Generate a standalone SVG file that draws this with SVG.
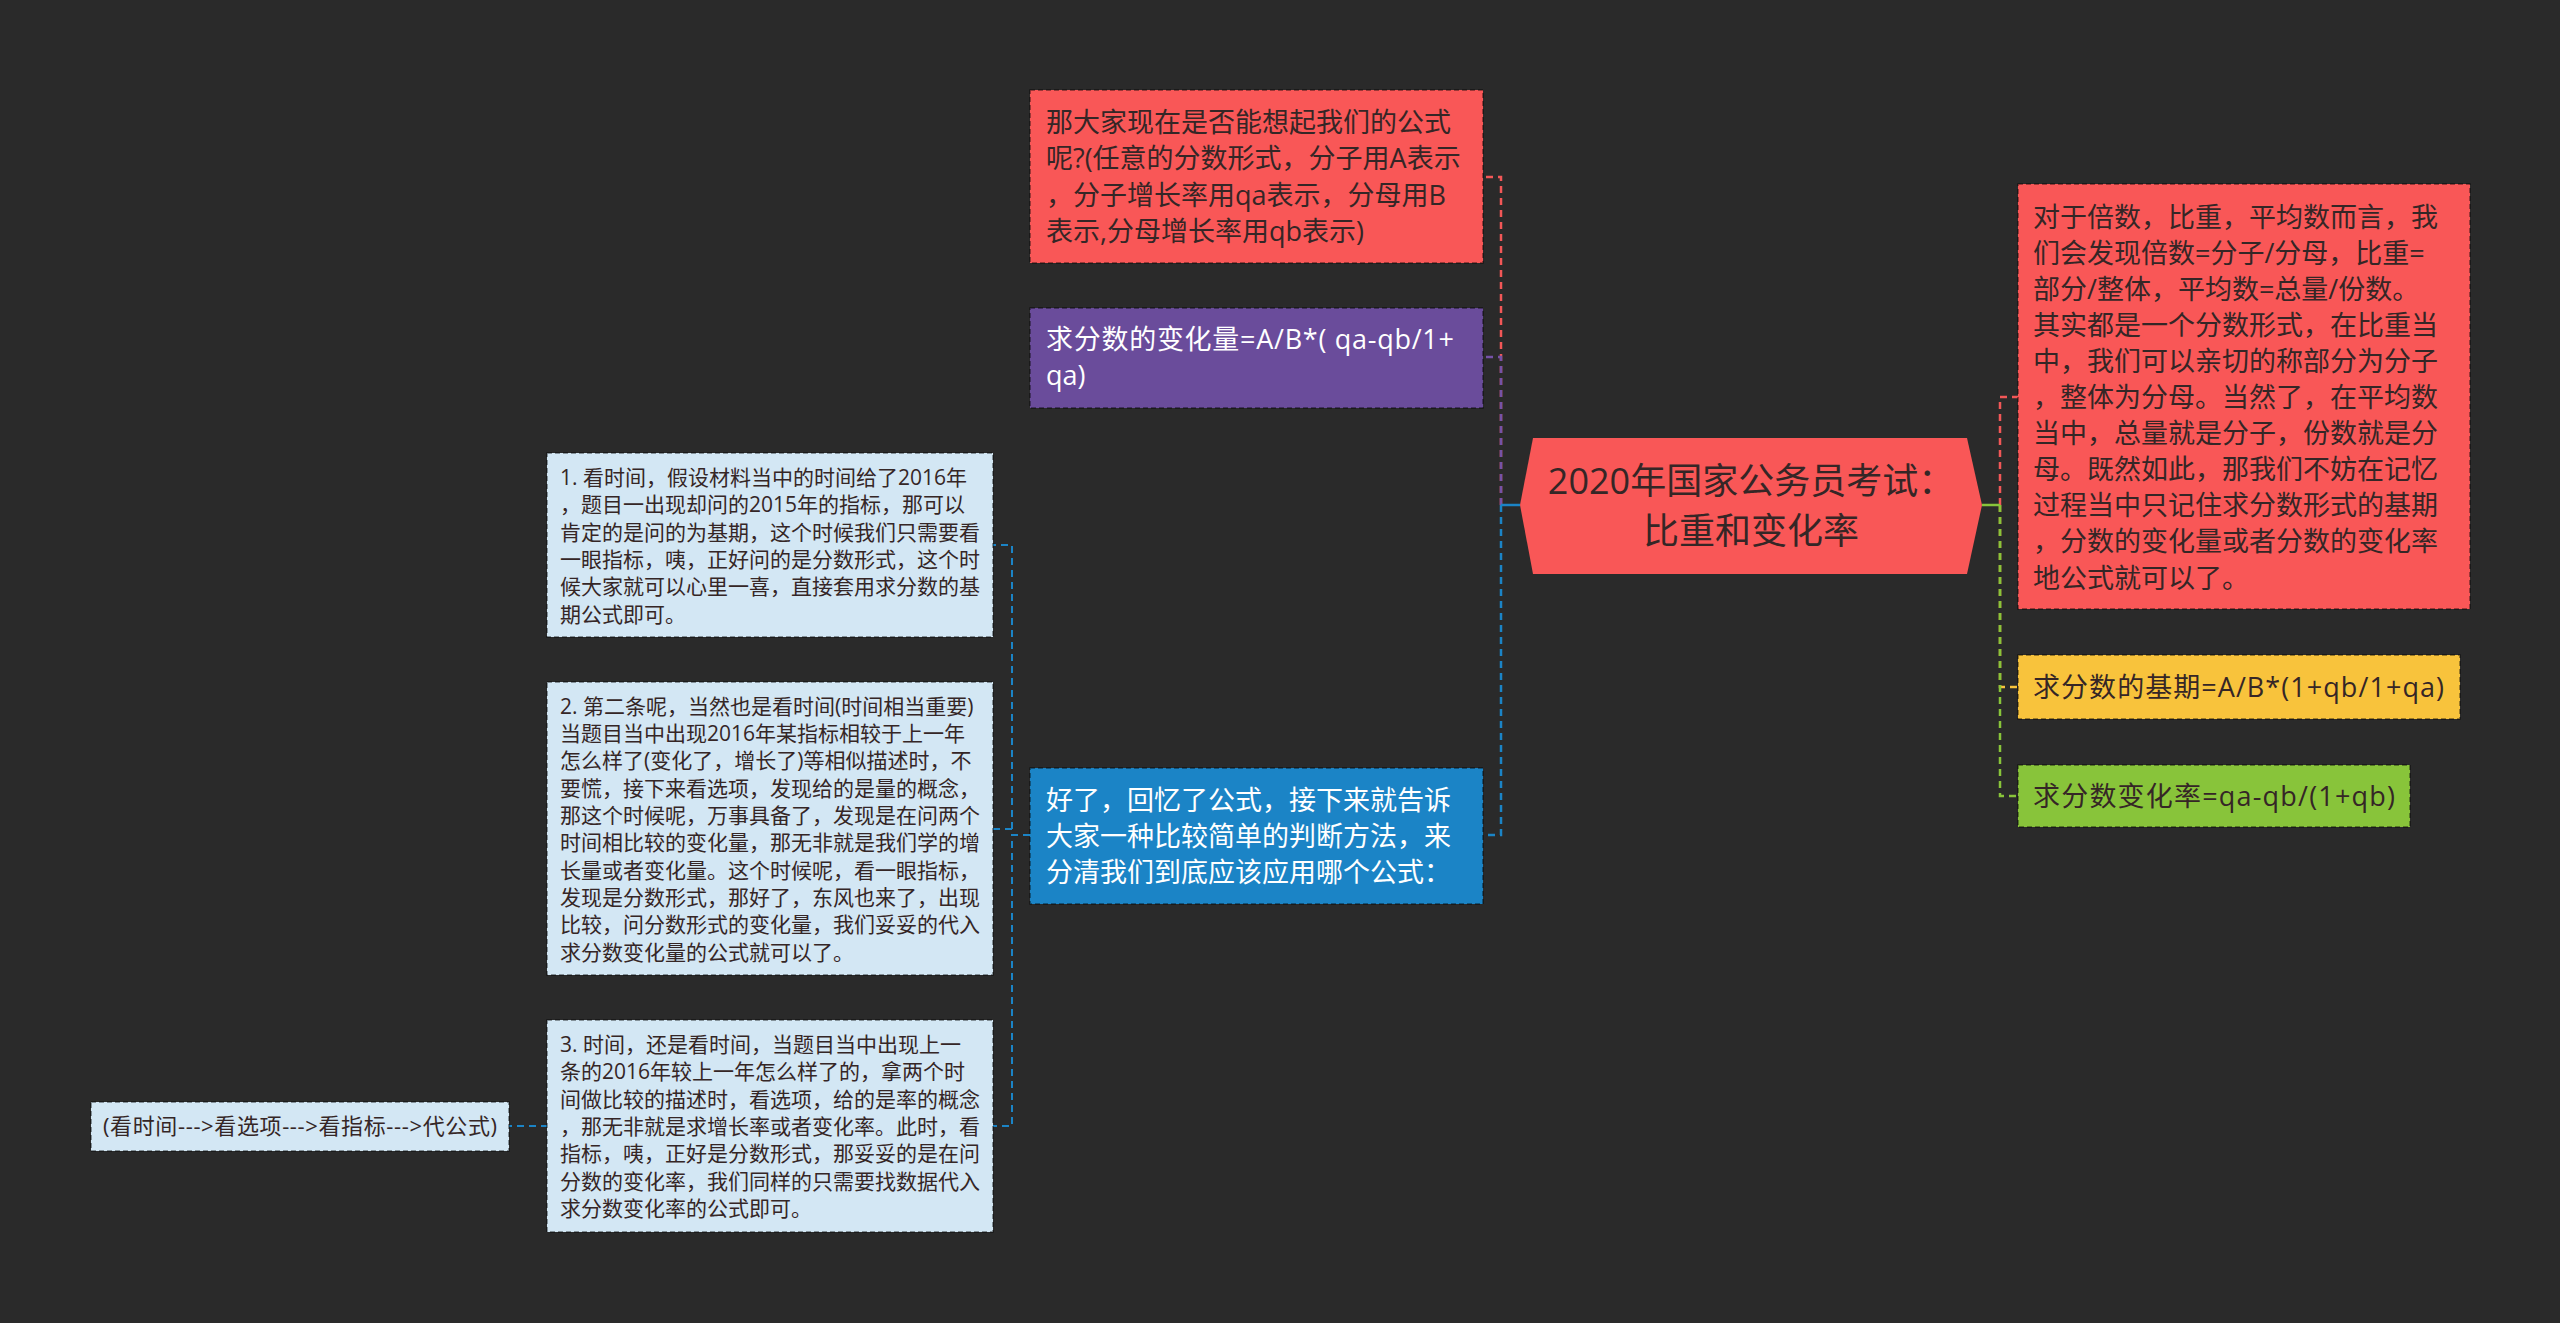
<svg xmlns="http://www.w3.org/2000/svg" width="2560" height="1323" viewBox="0 0 2560 1323">
<style>
.t{font-family:"Open Sans","Noto Sans CJK SC","Noto Sans",sans-serif}
.box{stroke:rgba(0,0,0,0.5);stroke-width:1.5;stroke-dasharray:5 3}
.red{fill:#f95757}
.pur{fill:#6a4c9b}
.blu{fill:#1b84c6}
.lb{fill:#d3e7f4}
.yel{fill:#f8c33c}
.grn{fill:#88c43a}
.dk{fill:#352626}
.wh{fill:#ffffff}
.f27{font-size:27px}
.f21{font-size:21px}
.c1{fill:none;stroke-width:2.5;stroke-dasharray:7 5}
.c2{fill:none;stroke-width:2;stroke-dasharray:7 5;stroke:#1b84c6}
</style>
<rect x="0" y="0" width="2560" height="1323" fill="#2a2a2a"/>

<g id="connectors">
  <path class="c1" stroke="#f25757" d="M1501 505 V177 H1483"/>
  <path class="c1" stroke="#7552a6" d="M1501 505 V357 H1483"/>
  <path class="c1" stroke="#1b84c6" d="M1501 505 V835 H1483"/>
  <path d="M1520 505 H1501" stroke="#1b84c6" stroke-width="2.5" fill="none"/>
  <path class="c1" stroke="#f25757" d="M2000 505 V397 H2018"/>
  <path class="c1" stroke="#f8c33c" d="M2000 505 V687 H2018"/>
  <path class="c1" stroke="#88c43a" d="M2000 505 V796 H2018"/>
  <path d="M1982 505 H2000" stroke="#88c43a" stroke-width="2.5" fill="none"/>
  <path class="c2" d="M1030 835 H1012 V545 H993"/>
  <path class="c2" d="M1030 835 H1012 V829 H993"/>
  <path class="c2" d="M1030 835 H1012 V1126 H993"/>
  <path class="c2" d="M548 1126 H509"/>
</g>

<g id="root">
  <polygon points="1520,505 1533,438 1967,438 1982,505 1967,574 1533,574" fill="#f95757"/>
  <text class="t dk" font-size="36" text-anchor="middle" x="1751" y="494">2020年国家公务员考试：</text>
  <text class="t dk" font-size="36" text-anchor="middle" x="1751" y="544">比重和变化率</text>
</g>

<g id="n-formula-recall">
  <rect class="box red" x="1030" y="90" width="453" height="173"/>
  <text class="t f27 dk" x="1046"><tspan x="1046" y="132">那大家现在是否能想起我们的公式</tspan><tspan x="1046" y="168">呢?(任意的分数形式，分子用A表示</tspan><tspan x="1046" y="205">，分子增长率用qa表示，分母用B</tspan><tspan x="1046" y="241">表示,分母增长率用qb表示)</tspan></text>
</g>

<g id="n-change-amount">
  <rect class="box pur" x="1030" y="308" width="453" height="100"/>
  <text class="t f27 wh" x="1046" y="349" textLength="408" lengthAdjust="spacing">求分数的变化量=A/B*( qa-qb/1+</text>
  <text class="t f27 wh" x="1046" y="385">qa)</text>
</g>

<g id="n-method">
  <rect class="box blu" x="1030" y="768" width="453" height="136"/>
  <text class="t f27 wh"><tspan x="1046" y="810">好了，回忆了公式，接下来就告诉</tspan><tspan x="1046" y="846">大家一种比较简单的判断方法，来</tspan><tspan x="1046" y="882">分清我们到底应该应用哪个公式：</tspan></text>
</g>

<g id="n-step1">
  <rect class="box lb" x="547" y="453" width="446" height="184"/>
  <text class="t f21 dk"><tspan x="560" y="485">1. 看时间，假设材料当中的时间给了2016年</tspan><tspan x="560" y="512">，题目一出现却问的2015年的指标，那可以</tspan><tspan x="560" y="540">肯定的是问的为基期，这个时候我们只需要看</tspan><tspan x="560" y="567">一眼指标，咦，正好问的是分数形式，这个时</tspan><tspan x="560" y="594">候大家就可以心里一喜，直接套用求分数的基</tspan><tspan x="560" y="622">期公式即可。</tspan></text>
</g>

<g id="n-step2">
  <rect class="box lb" x="547" y="682" width="446" height="293"/>
  <text class="t f21 dk"><tspan x="560" y="714">2. 第二条呢，当然也是看时间(时间相当重要)</tspan><tspan x="560" y="741">当题目当中出现2016年某指标相较于上一年</tspan><tspan x="560" y="768">怎么样了(变化了，增长了)等相似描述时，不</tspan><tspan x="560" y="796">要慌，接下来看选项，发现给的是量的概念，</tspan><tspan x="560" y="823">那这个时候呢，万事具备了，发现是在问两个</tspan><tspan x="560" y="850">时间相比较的变化量，那无非就是我们学的增</tspan><tspan x="560" y="878">长量或者变化量。这个时候呢，看一眼指标，</tspan><tspan x="560" y="905">发现是分数形式，那好了，东风也来了，出现</tspan><tspan x="560" y="932">比较，问分数形式的变化量，我们妥妥的代入</tspan><tspan x="560" y="960">求分数变化量的公式就可以了。</tspan></text>
</g>

<g id="n-step3">
  <rect class="box lb" x="547" y="1020" width="446" height="212"/>
  <text class="t f21 dk"><tspan x="560" y="1052">3. 时间，还是看时间，当题目当中出现上一</tspan><tspan x="560" y="1079">条的2016年较上一年怎么样了的，拿两个时</tspan><tspan x="560" y="1107">间做比较的描述时，看选项，给的是率的概念</tspan><tspan x="560" y="1134">，那无非就是求增长率或者变化率。此时，看</tspan><tspan x="560" y="1161">指标，咦，正好是分数形式，那妥妥的是在问</tspan><tspan x="560" y="1189">分数的变化率，我们同样的只需要找数据代入</tspan><tspan x="560" y="1216">求分数变化率的公式即可。</tspan></text>
</g>

<g id="n-summary">
  <rect class="box lb" x="91" y="1102" width="418" height="49"/>
  <text class="t dk" font-size="22" x="103" y="1134" textLength="394" lengthAdjust="spacing">(看时间---&gt;看选项---&gt;看指标---&gt;代公式)</text>
</g>

<g id="n-intro">
  <rect class="box red" x="2018" y="184" width="452" height="425"/>
  <text class="t f27 dk"><tspan x="2033" y="227">对于倍数，比重，平均数而言，我</tspan><tspan x="2033" y="263">们会发现倍数=分子/分母，比重=</tspan><tspan x="2033" y="299">部分/整体，平均数=总量/份数。</tspan><tspan x="2033" y="335">其实都是一个分数形式，在比重当</tspan><tspan x="2033" y="371">中，我们可以亲切的称部分为分子</tspan><tspan x="2033" y="407">，整体为分母。当然了，在平均数</tspan><tspan x="2033" y="443">当中，总量就是分子，份数就是分</tspan><tspan x="2033" y="479">母。既然如此，那我们不妨在记忆</tspan><tspan x="2033" y="515">过程当中只记住求分数形式的基期</tspan><tspan x="2033" y="551">，分数的变化量或者分数的变化率</tspan><tspan x="2033" y="588">地公式就可以了。</tspan></text>
</g>

<g id="n-base">
  <rect class="box yel" x="2018" y="655" width="442" height="64"/>
  <text class="t f27 dk" x="2033" y="697" textLength="411" lengthAdjust="spacing">求分数的基期=A/B*(1+qb/1+qa)</text>
</g>

<g id="n-rate">
  <rect class="box grn" x="2018" y="765" width="392" height="62"/>
  <text class="t f27 dk" x="2033" y="806" textLength="362" lengthAdjust="spacing">求分数变化率=qa-qb/(1+qb)</text>
</g>
</svg>
